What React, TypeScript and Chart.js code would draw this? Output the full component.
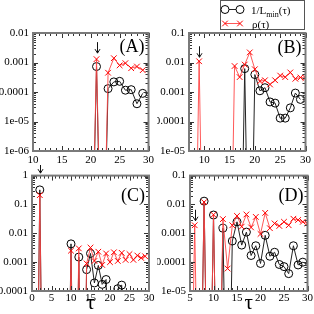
import React, { useEffect, useRef } from 'react';
import { Chart, registerables } from 'chart.js';
Chart.register(...registerables);

// ---------- data ----------
const tauA = [20, 21, 22, 23, 24, 25, 26, 27, 28, 29];
const invLA = [0, 0.00073, 0, 0.00013, 0.00022, 0.00023, 0.000115, 0.00012, 0.00004, 0.00009];
const rhoA = [0, 0.0013, 0, 0.00045, 0.0014, 0.0008, 0.00095, 0.00064, 0.00073, 0.00055];

const tauB = [8, 9, 10, 11, 12, 13, 14, 15, 16, 17, 18, 19, 20, 21, 22, 23, 24, 25, 26, 27, 28, 29, 30];
const invLB = [0, 0, 0, 0, 0, 0, 0, 0, 0, 0, 0.0062, 0, 0.0039, 0.0011, 0.0014, 0.00046, 0.00042, 0.00013, 0.00013, 0.00029, 0.00092, 0.00056, null];
const rhoB = [0, 0.011, 0, 0, 0, 0, 0, 0, 0.0076, 0.0032, 0.0085, 0.022, 0.0059, 0.0023, 0.0025, 0.0018, 0.0025, 0.0036, 0.0032, 0.0046, 0.0028, 0.0031, 0.003];

const tauC = [1, 2, 3, 4, 5, 6, 7, 8, 9, 10, 11, 12, 13, 14, 15, 16, 17, 18, 19, 20, 21, 22, 23, 24, 25, 26, 27, 28, 29];
const invLC = [0, 0.32, 0, 0, 0, 0, 0, 0, 0, 0.0043, 0, 0.0015, 0, 0.00055, 0.002, 0.00019, 0.00077, 0.00017, 0.00025, 0, 0, 0.00012, 0.00016, 0, 0, 0, 0, 0, 0];
const rhoC = [0, 0.21, 0, 0, 0, 0, 0, 0, 0, 0.0025, 0, 0.003, 0, 0.0009, 0.0032, 0.0011, 0.0023, 0.0008, 0.002, 0.001, 0.0022, 0.0011, 0.0021, 0.0012, 0.0019, 0.0012, 0.0017, 0.0014, 0.0016];

const tauD = [5, 6, 7, 8, 9, 10, 11, 12, 13, 14, 15, 16, 17, 18, 19, 20, 21, 22, 23, 24, 25, 26, 27, 28, 29, 30];
const invLD = [0, 0, 0, 0.013, 0, 0.0043, 0, 0.0015, 0, 0.00054, 0.0025, 0.00039, 0.0011, 0.00017, 0.00037, 0.00009, 0.00085, 0.00016, 0.00022, 0.000083, 0.00007, 0.00004, 0.00037, 0.00008, 0.0001, null];
const rhoD = [0, 0.0019, 0, 0.012, 0, 0.0044, 0, 0.0031, 0.00006, 0.0019, 0.004, 0.0017, 0.0045, 0.0016, 0.0037, 0.00095, 0.0051, 0.0015, 0.0022, 0.0018, 0.0025, 0.0019, 0.0032, 0.0029, 0.0025, 0.0022];

const xTicksA = [10, 15, 20, 25, 30];
const xTicksB = [10, 15, 20, 25, 30];
const xTicksC = [0, 5, 10, 15, 20, 25, 30];
const xTicksD = [5, 10, 15, 20, 25, 30];

const yTicksA = [1e-6, 1e-5, 1e-4, 1e-3, 1e-2];
const yLabelsA = ['1e-06', '1e-05', '0.0001', '0.001', '0.01'];
const yTicksB = [1e-5, 1e-4, 1e-3, 1e-2, 1e-1];
const yLabelsB = ['1e-05', '0.0001', '0.001', '0.01', '0.1'];
const yTicksC = [1e-4, 1e-3, 1e-2, 1e-1, 1];
const yLabelsC = ['0.0001', '0.001', '0.01', '0.1', '1'];
const yTicksD = [1e-5, 1e-4, 1e-3, 1e-2, 1e-1];
const yLabelsD = ['1e-05', '0.0001', '0.001', '0.01', '0.1'];

const legendInv = ['1/L', 'min', '(τ)'];
const legendRho = 'ρ(τ)';
const xTitle = 'τ';

// ---------- style ----------
const FONT = "'Liberation Serif', 'Times New Roman', serif";
const ZERO_FLOOR = 1e-12;
const RED_LINE = 'rgba(255,70,70,0.9)';
const RED = '#ff0000';
const BLACK_LINE = '#222';

type PanelCfg = {
  name: string; left: number; top: number; w: number; h: number;
  area: { l: number; r: number; t: number; b: number };
  tau: number[]; inv: (number | null)[]; rho: (number | null)[];
  xMin: number; xMax: number; xTicks: number[];
  yMin: number; yMax: number; yTicks: number[]; yLabels: string[];
  arrowTau: number; arrowGap: number; labelDy: number; xPad: number;
  showTitle: boolean; legend: boolean;
};

const panels: PanelCfg[] = [
  { name: '(A)', left: 0, top: 0, w: 157, h: 170, area: { l: 33, r: 149, t: 33, b: 151 },
    tau: tauA, inv: invLA, rho: rhoA, xMin: 10, xMax: 30, xTicks: xTicksA,
    yMin: 1e-6, yMax: 1e-2, yTicks: yTicksA, yLabels: yLabelsA,
    arrowTau: 21, arrowGap: 6, labelDy: 14, xPad: 3, showTitle: false, legend: false },
  { name: '(B)', left: 157, top: 0, w: 157, h: 170, area: { l: 32, r: 150, t: 33, b: 151 },
    tau: tauB, inv: invLB, rho: rhoB, xMin: 7, xMax: 30, xTicks: xTicksB,
    yMin: 1e-5, yMax: 1e-1, yTicks: yTicksB, yLabels: yLabelsB,
    arrowTau: 9, arrowGap: 4, labelDy: 15, xPad: 3, showTitle: false, legend: true },
  { name: '(C)', left: 0, top: 165, w: 157, h: 149, area: { l: 32, r: 149, t: 7, b: 126 },
    tau: tauC, inv: invLC, rho: rhoC, xMin: 0, xMax: 30, xTicks: xTicksC,
    yMin: 1e-4, yMax: 1, yTicks: yTicksC, yLabels: yLabelsC,
    arrowTau: 2, arrowGap: 22, labelDy: 21, xPad: 1, showTitle: true, legend: false },
  { name: '(D)', left: 157, top: 165, w: 157, h: 149, area: { l: 33, r: 151, t: 7, b: 126 },
    tau: tauD, inv: invLD, rho: rhoD, xMin: 5, xMax: 30, xTicks: xTicksD,
    yMin: 1e-5, yMax: 1e-1, yTicks: yTicksD, yLabels: yLabelsD,
    arrowTau: 6, arrowGap: 4.5, labelDy: 21, xPad: 1, showTitle: true, legend: false },
];

function toPoints(tau: number[], vals: (number | null)[]) {
  const pts: { x: number; y: number }[] = [];
  tau.forEach((t, i) => {
    const v = vals[i];
    if (v === null || v === undefined) return;
    pts.push({ x: t, y: v === 0 ? ZERO_FLOOR : v });
  });
  return pts;
}

function drawCross(ctx: CanvasRenderingContext2D, x: number, y: number, r: number) {
  ctx.beginPath();
  ctx.moveTo(x - r, y - r); ctx.lineTo(x + r, y + r);
  ctx.moveTo(x - r, y + r); ctx.lineTo(x + r, y - r);
  ctx.stroke();
}

function makePlugin(p: PanelCfg) {
  return {
    id: 'frame' + p.name,
    afterDatasetsDraw(chart: any) {
      const ctx: CanvasRenderingContext2D = chart.ctx;
      const a = chart.chartArea;
      const xs = chart.scales.x;
      const ys = chart.scales.y;
      ctx.save();
      // ticks
      ctx.strokeStyle = '#333';
      ctx.lineWidth = 1;
      ctx.beginPath();
      for (let v = Math.ceil(p.xMin); v <= p.xMax; v++) {
        const major = p.xTicks.includes(v);
        const len = major ? 5 : 3;
        const x = Math.round(xs.getPixelForValue(v)) + 0.5;
        ctx.moveTo(x, a.bottom); ctx.lineTo(x, a.bottom - len);
        ctx.moveTo(x, a.top); ctx.lineTo(x, a.top + len);
      }
      const d0 = Math.round(Math.log10(p.yMin));
      const d1 = Math.round(Math.log10(p.yMax));
      for (let d = d0; d <= d1; d++) {
        for (let k = 1; k <= 9; k++) {
          const v = k * Math.pow(10, d);
          if (v > p.yMax * 1.0001) break;
          const len = k === 1 ? 5 : 3;
          const y = Math.round(ys.getPixelForValue(v)) + 0.5;
          ctx.moveTo(a.left, y); ctx.lineTo(a.left + len, y);
          ctx.moveTo(a.right, y); ctx.lineTo(a.right - len, y);
        }
      }
      ctx.stroke();
      // frame
      ctx.strokeStyle = '#7a7a7a';
      ctx.lineWidth = 2;
      ctx.strokeRect(a.left, a.top, a.right - a.left, a.bottom - a.top);
      // arrow
      const idx = p.tau.indexOf(p.arrowTau);
      const val = p.rho[idx] as number;
      const ax = Math.round(xs.getPixelForValue(p.arrowTau)) + 0.5;
      const tip = ys.getPixelForValue(val) - p.arrowGap;
      ctx.strokeStyle = '#111';
      ctx.lineWidth = 1;
      ctx.beginPath();
      ctx.moveTo(ax, tip - 11); ctx.lineTo(ax, tip);
      ctx.moveTo(ax - 2.5, tip - 4); ctx.lineTo(ax, tip); ctx.lineTo(ax + 2.5, tip - 4);
      ctx.stroke();
      // panel label
      ctx.fillStyle = '#000';
      ctx.font = `18px ${FONT}`;
      ctx.textAlign = 'right';
      ctx.textBaseline = 'middle';
      ctx.fillText(p.name, a.right - 4, a.top + p.labelDy);
      if (p.showTitle) {
        ctx.font = `21px ${FONT}`;
        ctx.textAlign = 'center';
        ctx.textBaseline = 'middle';
        ctx.fillText(xTitle, (a.left + a.right) / 2, a.bottom + 12);
      }
      if (p.legend) {
        const bx = 63, by = 0, bw = 85, bh = 30;
        ctx.fillStyle = '#fff';
        ctx.fillRect(bx, by, bw, bh);
        ctx.strokeStyle = '#555';
        ctx.lineWidth = 1;
        ctx.strokeRect(bx + 0.5, by + 0.5, bw - 1, bh - 1);
        const x1 = 68, x2 = 83;
        const r1 = 9.5, r2 = 23.5;
        ctx.strokeStyle = BLACK_LINE;
        ctx.beginPath(); ctx.moveTo(x1, r1); ctx.lineTo(x2, r1); ctx.stroke();
        ctx.strokeStyle = '#000';
        ctx.fillStyle = '#fff';
        [x1, x2].forEach((x) => { ctx.beginPath(); ctx.arc(x, r1, 4, 0, Math.PI * 2); ctx.fill(); ctx.stroke(); });
        ctx.strokeStyle = RED_LINE;
        ctx.beginPath(); ctx.moveTo(x1, r2); ctx.lineTo(x2, r2); ctx.stroke();
        ctx.strokeStyle = RED;
        [x1, x2].forEach((x) => drawCross(ctx, x, r2, 2.8));
        ctx.fillStyle = '#000';
        ctx.textAlign = 'left';
        ctx.textBaseline = 'alphabetic';
        let tx = 94;
        ctx.font = `11px ${FONT}`;
        ctx.fillText(legendInv[0], tx, r1 + 4);
        tx += ctx.measureText(legendInv[0]).width;
        ctx.font = `8px ${FONT}`;
        ctx.fillText(legendInv[1], tx, r1 + 7);
        tx += ctx.measureText(legendInv[1]).width;
        ctx.font = `11px ${FONT}`;
        ctx.fillText(legendInv[2], tx, r1 + 4);
        ctx.fillText(legendRho, 95, r2 + 4);
      }
      ctx.restore();
    },
  };
}

function Panel({ p }: { p: PanelCfg }) {
  const ref = useRef<HTMLCanvasElement>(null);
  useEffect(() => {
    if (!ref.current) return;
    const tickFont = { family: FONT, size: 11 };
    const chart = new Chart(ref.current, {
      type: 'line',
      data: {
        datasets: [
          {
            label: legendRho,
            data: toPoints(p.tau, p.rho),
            borderColor: RED_LINE,
            borderWidth: 1,
            pointStyle: 'crossRot',
            pointRadius: 4,
            pointBorderColor: RED,
            pointBackgroundColor: 'rgba(0,0,0,0)',
            pointBorderWidth: 1,
            tension: 0,
          },
          {
            label: legendInv.join(''),
            data: toPoints(p.tau, p.inv),
            borderColor: BLACK_LINE,
            borderWidth: 1,
            pointStyle: 'circle',
            pointRadius: 4,
            pointBorderColor: '#000',
            pointBackgroundColor: 'rgba(0,0,0,0)',
            pointBorderWidth: 1,
            tension: 0,
          },
        ],
      } as any,
      options: {
        responsive: false,
        maintainAspectRatio: false,
        animation: false,
        devicePixelRatio: 1,
        layout: { padding: { left: 0, top: p.area.t, right: p.w - p.area.r, bottom: 0 } },
        plugins: { legend: { display: false }, tooltip: { enabled: false } },
        scales: {
          x: {
            type: 'linear',
            min: p.xMin,
            max: p.xMax,
            afterFit: (s: any) => { s.height = p.h - p.area.b; },
            afterBuildTicks: (s: any) => { s.ticks = p.xTicks.map((v) => ({ value: v })); },
            ticks: { font: tickFont, color: '#000', padding: p.xPad, maxRotation: 0, autoSkip: false, callback: (v: any) => String(v) },
            grid: { display: false, drawTicks: false },
            border: { display: false },
          },
          y: {
            type: 'logarithmic',
            min: p.yMin,
            max: p.yMax,
            afterFit: (s: any) => { s.width = p.area.l; },
            afterBuildTicks: (s: any) => { s.ticks = p.yTicks.map((v) => ({ value: v })); },
            ticks: { font: tickFont, color: '#000', padding: 4, autoSkip: false, callback: (_v: any, i: number) => p.yLabels[i] },
            grid: { display: false, drawTicks: false },
            border: { display: false },
          },
        },
      } as any,
      plugins: [makePlugin(p)],
    });
    return () => chart.destroy();
  }, [p]);
  return (
    <canvas
      ref={ref}
      width={p.w}
      height={p.h}
      style={{ position: 'absolute', left: p.left, top: p.top, width: p.w, height: p.h }}
    />
  );
}

export default function App() {
  return (
    <div style={{ position: 'fixed', left: 0, top: 0, width: 314, height: 314, background: '#fff', overflow: 'hidden' }}>
      {panels.map((p) => (
        <Panel key={p.name} p={p} />
      ))}
    </div>
  );
}
